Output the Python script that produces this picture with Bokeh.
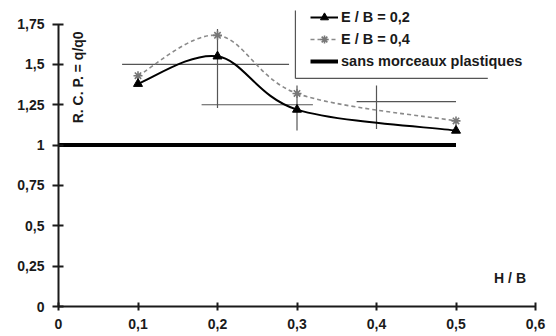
import numpy as np
from math import pi
from bokeh.plotting import figure
from bokeh.models import (Range1d, FixedTicker, CustomJSTickFormatter, Legend,
                          LegendItem, Label, ColumnDataSource)
from bokeh.embed import file_html
from bokeh.resources import INLINE

# ---- data ----
h_b = [0.1, 0.2, 0.3, 0.5]
rcp_e02 = [1.38, 1.55, 1.22, 1.09]
rcp_e04 = [1.43, 1.68, 1.32, 1.15]
base_x = [0.0, 0.5]
base_y = [1.0, 1.0]
x_ticks = [0, 0.1, 0.2, 0.3, 0.4, 0.5, 0.6]
y_ticks = [0, 0.25, 0.5, 0.75, 1, 1.25, 1.5, 1.75]

# remnants of gridlines / legend frame that survived in the scan
frag_x0 = [0.08, 0.18, 0.375, 0.2, 0.3, 0.4, 0.298, 0.298]
frag_y0 = [1.5, 1.25, 1.27, 1.23, 1.09, 1.10, 1.413, 1.413]
frag_x1 = [0.29, 0.32, 0.5, 0.2, 0.3, 0.4, 0.298, 0.54]
frag_y1 = [1.5, 1.25, 1.27, 1.72, 1.37, 1.37, 1.834, 1.413]

FONT = "Liberation Sans"
INK = "#1a1a1a"


def smooth(xs, ys):
    """Catmull-Rom -> cubic Bezier control points (rendering only)."""
    xs = np.asarray(xs, float)
    ys = np.asarray(ys, float)
    n = len(xs)
    px = np.concatenate([[xs[0]], xs, [xs[-1]]])
    py = np.concatenate([[ys[0]], ys, [ys[-1]]])
    return dict(
        x0=px[1:n], y0=py[1:n], x1=px[2:n + 1], y1=py[2:n + 1],
        cx0=px[1:n] + (px[2:n + 1] - px[0:n - 1]) / 6,
        cy0=py[1:n] + (py[2:n + 1] - py[0:n - 1]) / 6,
        cx1=px[2:n + 1] - (px[3:n + 2] - px[1:n]) / 6,
        cy1=py[2:n + 1] - (py[3:n + 2] - py[1:n]) / 6,
    )


p = figure(width=556, height=336, output_backend="svg", toolbar_location=None,
           x_range=Range1d(0, 0.6), y_range=Range1d(0, 1.896),
           min_border_left=58, min_border_right=21, min_border_top=0,
           min_border_bottom=30)
p.xgrid.visible = False
p.ygrid.visible = False
p.outline_line_color = None
p.background_fill_color = "white"

# scan remnants
p.segment(x0=frag_x0, y0=frag_y0, x1=frag_x1, y1=frag_y1,
          line_color="#555555", line_width=1.2)

# baseline
r_base = p.line(base_x, base_y, line_color="black", line_width=4)

# E/B = 0.4
c4 = p.bezier(source=ColumnDataSource(smooth(h_b, rcp_e04)),
              x0="x0", y0="y0", x1="x1", y1="y1",
              cx0="cx0", cy0="cy0", cx1="cx1", cy1="cy1",
              line_color="#8a8a8a", line_width=1.6, line_dash="4 3")
m4 = p.scatter(h_b, rcp_e04, marker="asterisk", size=9,
               line_color="#777777", line_width=1.6)

# E/B = 0.2
c2 = p.bezier(source=ColumnDataSource(smooth(h_b, rcp_e02)),
              x0="x0", y0="y0", x1="x1", y1="y1",
              cx0="cx0", cy0="cy0", cx1="cx1", cy1="cy1",
              line_color="black", line_width=2)
m2 = p.scatter(h_b, rcp_e02, marker="triangle", size=9,
               fill_color="black", line_color="black")

fmt = CustomJSTickFormatter(code="""
var s = tick.toFixed(2);
s = s.replace(/0+$/, '').replace(/\\.$/, '');
return s.replace('.', ',');
""")

for ax, ticks, bounds in ((p.xaxis[0], x_ticks, (0, 0.6)),
                          (p.yaxis[0], y_ticks, (0, 1.75))):
    ax.ticker = FixedTicker(ticks=ticks)
    ax.formatter = fmt
    ax.bounds = bounds
    ax.axis_line_width = 2
    ax.axis_line_color = INK
    ax.major_tick_line_width = 2
    ax.major_tick_line_color = INK
    ax.minor_tick_in = 0
    ax.minor_tick_out = 0
    ax.major_label_text_font = FONT
    ax.major_label_text_font_size = "14px"
    ax.major_label_text_font_style = "bold"
    ax.major_label_text_color = INK

p.xaxis.major_tick_in = 4
p.xaxis.major_tick_out = 4
p.xaxis.major_label_standoff = 8
p.yaxis.major_tick_in = 5
p.yaxis.major_tick_out = 6
p.yaxis.major_label_standoff = 8

p.add_layout(Label(x=0.025, y=1.42, text="R. C. P. = q/q0", angle=pi / 2,
                   text_align="center", text_baseline="middle",
                   text_font=FONT, text_font_size="14px",
                   text_font_style="bold", text_color=INK))
p.add_layout(Label(x=0.568, y=0.175, text="H / B", text_align="center",
                   text_baseline="middle", text_font=FONT,
                   text_font_size="14px", text_font_style="bold",
                   text_color=INK))

legend = Legend(items=[
    LegendItem(label="E / B = 0,2", renderers=[c2, m2]),
    LegendItem(label="E / B = 0,4", renderers=[c4, m4]),
    LegendItem(label="sans morceaux plastiques", renderers=[r_base]),
], location=(252, 235), padding=0, spacing=2, glyph_width=28,
    glyph_height=20, label_height=20, label_standoff=3,
    border_line_alpha=0, background_fill_alpha=0,
    label_text_font=FONT, label_text_font_size="14.5px",
    label_text_font_style="bold", label_text_color=INK)
p.add_layout(legend)

open("out.html", "w").write(file_html(p, INLINE))
